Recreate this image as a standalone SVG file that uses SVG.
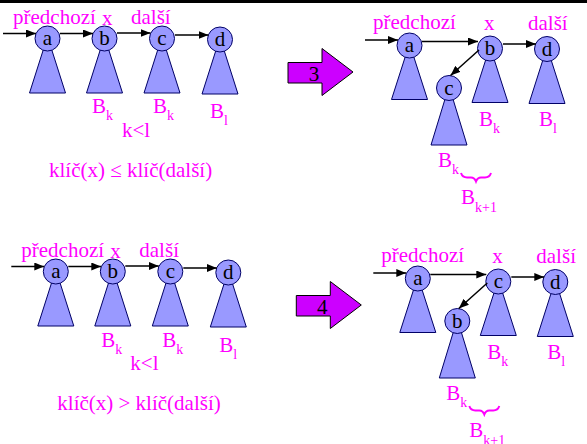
<svg xmlns="http://www.w3.org/2000/svg" width="587" height="444" viewBox="0 0 587 444">
<style>
.tri{fill:#9999FF;stroke:#000066;stroke-width:1}
.cir{fill:#9999FF;stroke:#000066;stroke-width:1}
.nl{font-family:"Liberation Serif","Times New Roman",serif;font-size:21px;fill:#000;text-anchor:middle}
.lbl{font-family:"Liberation Serif","Times New Roman",serif;font-size:21px;fill:#FF00FF}
.sub{font-size:14px}
.con line{stroke:#000;stroke-width:1.5;marker-end:url(#ah)}
.brace{fill:none;stroke:#FF00FF;stroke-width:2}
.big{fill:#CC00FF;stroke:#000;stroke-width:1}
.bigt{font-family:"Liberation Serif","Times New Roman",serif;font-size:21px;fill:#000;text-anchor:middle}
</style>
<defs>
<marker id="ah" markerUnits="userSpaceOnUse" markerWidth="10" markerHeight="8" refX="10" refY="4" orient="auto">
<path d="M0,0 L10,4 L0,8 z" fill="#000"/>
</marker>
</defs>
<rect x="0" y="0" width="587" height="3" fill="#000"/>

<!-- Panel 1 -->
<g id="panel1">
<g id="p1-a"><polygon class="tri" points="47.5,36.5 29.5,93 65.5,93"/><circle class="cir" cx="47.5" cy="38.5" r="12.5"/><text class="nl" x="47.5" y="45">a</text></g>
<g id="p1-b"><polygon class="tri" points="104.5,36.5 86.5,93 122.5,93"/><circle class="cir" cx="104.5" cy="38.5" r="12.5"/><text class="nl" x="104.5" y="45">b</text></g>
<g id="p1-c"><polygon class="tri" points="162,36.5 144,93 180,93"/><circle class="cir" cx="162" cy="38.5" r="12.5"/><text class="nl" x="162" y="45">c</text></g>
<g id="p1-d"><polygon class="tri" points="220,37.5 202,94 238,94"/><circle class="cir" cx="220" cy="39.5" r="12.5"/><text class="nl" x="220" y="46">d</text></g>
<g id="p1-connectors" class="con">
<line x1="3" y1="33.5" x2="36" y2="33.5"/>
<line x1="60" y1="33.5" x2="93" y2="33.5"/>
<line x1="117" y1="33" x2="150.5" y2="33"/>
<line x1="175" y1="35" x2="208.5" y2="35"/>
</g>
<text class="lbl" x="13" y="24">předchozí</text>
<text class="lbl" x="102" y="25">x</text>
<text class="lbl" x="131" y="24">další</text>
<text class="lbl" x="92" y="113">B<tspan class="sub" dy="7">k</tspan></text>
<text class="lbl" x="153" y="113">B<tspan class="sub" dy="7">k</tspan></text>
<text class="lbl" x="210" y="118">B<tspan class="sub" dy="7">l</tspan></text>
<text class="lbl" x="122" y="137">k&lt;l</text>
<text class="lbl" x="49" y="177">klíč(x) ≤ klíč(další)</text>
</g>

<!-- Panel 2 -->
<g id="panel2">
<g id="step3"><polygon class="big" points="288,62.5 322,62.5 322,48.5 353,72 322,95.5 322,83 288,83"/><text class="bigt" x="314" y="80.5">3</text></g>
<g id="p2-a"><polygon class="tri" points="409.5,43.5 391.5,99.5 427.5,99.5"/><circle class="cir" cx="409.5" cy="45.5" r="12.5"/><text class="nl" x="409.5" y="52">a</text></g>
<g id="p2-b"><polygon class="tri" points="490,46.5 472,102.5 508,102.5"/><circle class="cir" cx="490" cy="48.5" r="12.5"/><text class="nl" x="490" y="55">b</text></g>
<g id="p2-d"><polygon class="tri" points="547,47 529,103.5 565,103.5"/><circle class="cir" cx="547" cy="49" r="12.5"/><text class="nl" x="547" y="55.5">d</text></g>
<g id="p2-c"><polygon class="tri" points="449,86 431,145 467,145"/><circle class="cir" cx="449" cy="88" r="12.5"/><text class="nl" x="449" y="94.5">c</text></g>
<g id="p2-connectors" class="con">
<line x1="365" y1="40" x2="398" y2="40"/>
<line x1="422" y1="41.5" x2="478" y2="41.5"/>
<line x1="503" y1="44" x2="536" y2="44"/>
<line x1="479" y1="50" x2="450.5" y2="75.5"/>
</g>
<text class="lbl" x="373" y="29">předchozí</text>
<text class="lbl" x="484" y="30">x</text>
<text class="lbl" x="528" y="30">další</text>
<text class="lbl" x="479" y="126">B<tspan class="sub" dy="7">k</tspan></text>
<text class="lbl" x="539" y="126">B<tspan class="sub" dy="7">l</tspan></text>
<text class="lbl" x="438" y="166.5">B<tspan class="sub" dy="7">k</tspan></text>
<path class="brace" d="M461,173 Q462.5,177.5 467,177.5 L471,177.5 Q474.5,177.5 476,181.5 Q477.5,177.5 481,177.5 L485,177.5 Q489.5,177.5 491,173"/>
<text class="lbl" x="461" y="204">B<tspan class="sub" dy="8">k+1</tspan></text>
</g>

<!-- Panel 3 -->
<g id="panel3" transform="translate(8.3,233)">
<g id="p3-a"><polygon class="tri" points="47.5,36.5 29.5,93 65.5,93"/><circle class="cir" cx="47.5" cy="38.5" r="12.5"/><text class="nl" x="47.5" y="45">a</text></g>
<g id="p3-b"><polygon class="tri" points="104.5,36.5 86.5,93 122.5,93"/><circle class="cir" cx="104.5" cy="38.5" r="12.5"/><text class="nl" x="104.5" y="45">b</text></g>
<g id="p3-c"><polygon class="tri" points="162,36.5 144,93 180,93"/><circle class="cir" cx="162" cy="38.5" r="12.5"/><text class="nl" x="162" y="45">c</text></g>
<g id="p3-d"><polygon class="tri" points="220,37.5 202,94 238,94"/><circle class="cir" cx="220" cy="39.5" r="12.5"/><text class="nl" x="220" y="46">d</text></g>
<g id="p3-connectors" class="con">
<line x1="3" y1="33.5" x2="36" y2="33.5"/>
<line x1="60" y1="33.5" x2="93" y2="33.5"/>
<line x1="117" y1="33" x2="150.5" y2="33"/>
<line x1="175" y1="35" x2="208.5" y2="35"/>
</g>
<text class="lbl" x="13" y="24">předchozí</text>
<text class="lbl" x="102" y="25">x</text>
<text class="lbl" x="131" y="24">další</text>
<text class="lbl" x="93" y="114">B<tspan class="sub" dy="7">k</tspan></text>
<text class="lbl" x="154" y="114">B<tspan class="sub" dy="7">k</tspan></text>
<text class="lbl" x="211" y="119">B<tspan class="sub" dy="7">l</tspan></text>
<text class="lbl" x="122" y="137">k&lt;l</text>
<text class="lbl" x="49" y="177">klíč(x) &gt; klíč(další)</text>
</g>

<!-- Panel 4 -->
<g id="panel4" transform="translate(8.3,233)">
<g id="step4"><polygon class="big" points="288,62.5 322,62.5 322,48.5 353,72 322,95.5 322,83 288,83"/><text class="bigt" x="314" y="80.5">4</text></g>
<g id="p4-a"><polygon class="tri" points="409.5,43.5 391.5,99.5 427.5,99.5"/><circle class="cir" cx="409.5" cy="45.5" r="12.5"/><text class="nl" x="409.5" y="52">a</text></g>
<g id="p4-c"><polygon class="tri" points="490,46.5 472,102.5 508,102.5"/><circle class="cir" cx="490" cy="48.5" r="12.5"/><text class="nl" x="490" y="55">c</text></g>
<g id="p4-d"><polygon class="tri" points="547,47 529,103.5 565,103.5"/><circle class="cir" cx="547" cy="49" r="12.5"/><text class="nl" x="547" y="55.5">d</text></g>
<g id="p4-b"><polygon class="tri" points="449,86 431,145 467,145"/><circle class="cir" cx="449" cy="88" r="12.5"/><text class="nl" x="449" y="94.5">b</text></g>
<g id="p4-connectors" class="con">
<line x1="365" y1="40" x2="398" y2="40"/>
<line x1="422" y1="41.5" x2="478" y2="41.5"/>
<line x1="503" y1="44" x2="536" y2="44"/>
<line x1="479" y1="50" x2="450.5" y2="75.5"/>
</g>
<text class="lbl" x="373" y="29">předchozí</text>
<text class="lbl" x="484" y="30">x</text>
<text class="lbl" x="528" y="30">další</text>
<text class="lbl" x="479" y="126">B<tspan class="sub" dy="7">k</tspan></text>
<text class="lbl" x="539" y="126">B<tspan class="sub" dy="7">l</tspan></text>
<text class="lbl" x="438" y="166.5">B<tspan class="sub" dy="7">k</tspan></text>
<path class="brace" d="M461,173 Q462.5,177.5 467,177.5 L471,177.5 Q474.5,177.5 476,181.5 Q477.5,177.5 481,177.5 L485,177.5 Q489.5,177.5 491,173"/>
<text class="lbl" x="461" y="204">B<tspan class="sub" dy="8">k+1</tspan></text>
</g>
</svg>
